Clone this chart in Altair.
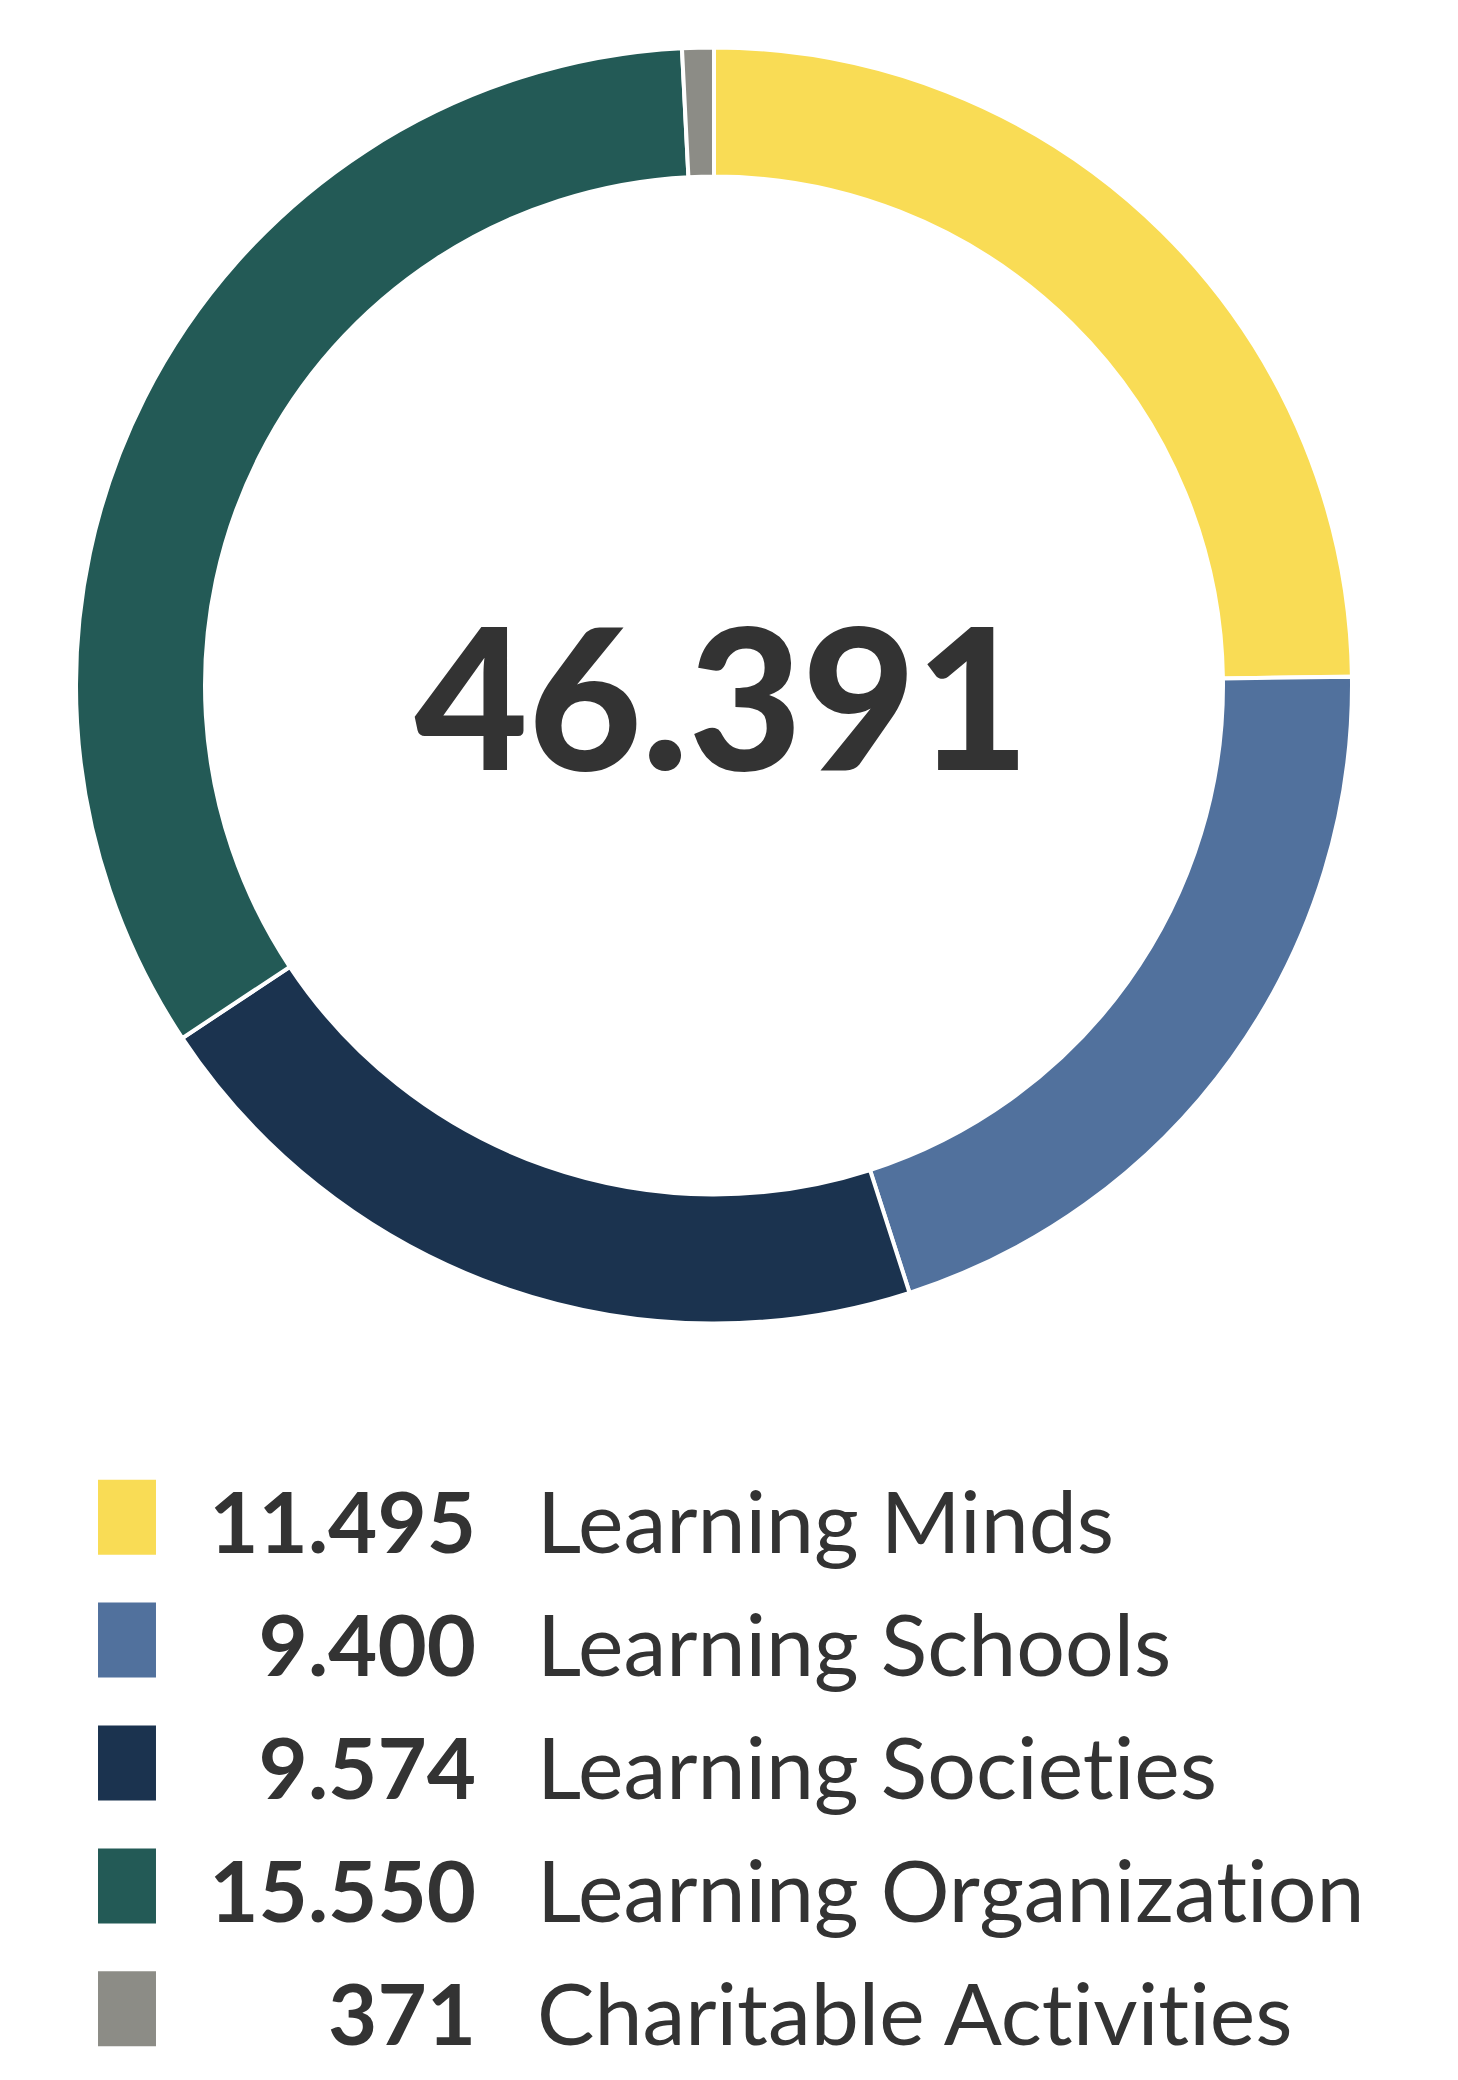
import altair as alt
import pandas as pd

## Data
categories = ["Learning Minds", "Learning Schools", "Learning Societies",
              "Learning Organization", "Charitable Activities"]
values = [11495, 9400, 9574, 15550, 371]
colors = ["#F9DC55", "#51719D", "#1B334F", "#235A56", "#8C8C86"]
total_label = "46.391"  # as printed in the middle of the ring

def dotted(n):
    # 11495 -> "11.495"
    return f"{n:,}".replace(",", ".")

df = pd.DataFrame({
    "category": categories,
    "value": values,
    "idx": list(range(len(categories))),
    "label": [dotted(v) for v in values],
    # zero-width non-joiner keeps Lato from drawing its "ti" ligature
    "shown": [c.replace("ti", "t\u200ci") for c in categories],
})
total_df = pd.DataFrame({"total": [total_label]})

text_color = "#333333"
font = "Lato"

color_scale = alt.Scale(domain=categories, range=colors)

## Donut
ring = alt.Chart(df).mark_arc(
    outerRadius=638,
    innerRadius=509,
    stroke="white",
    strokeWidth=4
).encode(
    theta=alt.Theta("value:Q", stack=True),
    order=alt.Order("idx:Q"),
    color=alt.Color("category:N", scale=color_scale, legend=None),
)

center_text = alt.Chart(total_df).mark_text(
    font=font,
    fontSize=196,
    fontWeight=900,
    color=text_color,
    baseline="alphabetic",
    align="center",
    dx=8,
    dy=84
).encode(text="total:N")

donut = alt.layer(ring, center_text).properties(width=1412, height=1355)

## Legend
row_y = alt.Y("category:N", sort=categories,
              scale=alt.Scale(type="point", padding=0.4), axis=None)

swatch = alt.Chart(df).mark_point(
    shape="M-0.773,-1H0.773V1H-0.773Z",
    size=5625,
    filled=True,
    opacity=1
).encode(
    x=alt.value(119),
    y=row_y,
    color=alt.Color("category:N", scale=color_scale, legend=None),
)

numbers = alt.Chart(df).mark_text(
    font=font,
    fontSize=85,
    fontWeight=700,
    color=text_color,
    align="right",
    baseline="alphabetic",
    dy=36
).encode(
    x=alt.value(468),
    y=row_y,
    text="label:N",
)

labels = alt.Chart(df).mark_text(
    font=font,
    fontSize=86,
    fontWeight=400,
    color=text_color,
    align="left",
    baseline="alphabetic",
    dy=36
).encode(
    x=alt.value(529),
    y=row_y,
    text="shown:N",
)

legend = alt.layer(swatch, numbers, labels).properties(width=1412, height=590)

chart = alt.vconcat(donut, legend, spacing=105).properties(
    padding=0,
    background="white"
).configure_view(
    strokeWidth=0,
    stroke="transparent"
)

chart.save("out.html", embed_options={"renderer": "svg", "actions": False})
